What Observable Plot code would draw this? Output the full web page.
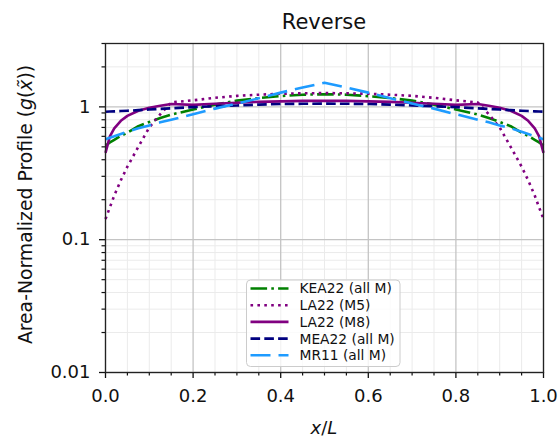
<!DOCTYPE html>
<html>
<head>
<meta charset="utf-8">
<script src="https://cdn.jsdelivr.net/npm/d3@7"></script>
<script src="https://cdn.jsdelivr.net/npm/@observablehq/plot@0.6"></script>
<style>
  html, body { margin: 0; padding: 0; background: #fff; }
  #chart { width: 559px; height: 440px; position: relative; }
  svg { font-family: "DejaVu Sans", sans-serif; }
</style>
</head>
<body>
<div id="chart"></div>
<script>
// ---- data ----
const xs = [0, 0.01, 0.02, 0.035, 0.05, 0.075, 0.1, 0.125, 0.15, 0.2, 0.25, 0.3, 0.35, 0.4, 0.45, 0.5,
            0.55, 0.6, 0.65, 0.7, 0.75, 0.8, 0.85, 0.875, 0.9, 0.925, 0.95, 0.965, 0.98, 0.99, 1];
const kea22 = [0.51, 0.54, 0.565, 0.605, 0.64, 0.715, 0.77, 0.825, 0.875, 0.955, 1.04, 1.115, 1.165, 1.205, 1.235, 1.245,
               1.235, 1.205, 1.165, 1.115, 1.04, 0.955, 0.875, 0.825, 0.77, 0.715, 0.64, 0.605, 0.565, 0.54, 0.51];
const la22M5 = [0.143, 0.175, 0.215, 0.28, 0.355, 0.50, 0.70, 0.88, 1.08, 1.12, 1.17, 1.21, 1.235, 1.255, 1.265, 1.27,
                1.265, 1.255, 1.235, 1.21, 1.17, 1.12, 1.08, 0.88, 0.70, 0.50, 0.355, 0.28, 0.215, 0.175, 0.143];
const la22M8 = [0.45, 0.60, 0.69, 0.785, 0.855, 0.935, 0.985, 1.02, 1.05, 1.035, 1.055, 1.075, 1.09, 1.10, 1.11, 1.11,
                1.11, 1.10, 1.09, 1.075, 1.055, 1.035, 1.05, 1.02, 0.985, 0.935, 0.855, 0.785, 0.69, 0.60, 0.45];
const mea22 = [0.92, 0.922, 0.925, 0.93, 0.935, 0.945, 0.955, 0.965, 0.975, 0.995, 1.01, 1.025, 1.04, 1.05, 1.055, 1.058,
               1.055, 1.05, 1.04, 1.025, 1.01, 0.995, 0.975, 0.965, 0.955, 0.945, 0.935, 0.93, 0.925, 0.922, 0.92];
const mr11 = [0.57, 0.585, 0.60, 0.625, 0.65, 0.69, 0.725, 0.765, 0.80, 0.88, 0.97, 1.06, 1.16, 1.28, 1.40, 1.52,
              1.40, 1.28, 1.16, 1.06, 0.97, 0.88, 0.80, 0.765, 0.725, 0.69, 0.65, 0.625, 0.60, 0.585, 0.57];

const seriesNames = ["KEA22 (all M)", "LA22 (M5)", "LA22 (M8)", "MEA22 (all M)", "MR11 (all M)"];
const seriesValues = [kea22, la22M5, la22M8, mea22, mr11];
const seriesColors = ["#008000", "#800080", "#800080", "#000080", "#1e9bff"];
const seriesDash = ["16.6,4.2,2.6,4.2", "2.6,4.3", null, "9.6,4.2", "20,8"];

const xMajor = [0, 0.2, 0.4, 0.6, 0.8, 1.0];
const xMinor = [0.05, 0.1, 0.15, 0.25, 0.3, 0.35, 0.45, 0.5, 0.55, 0.65, 0.7, 0.75, 0.85, 0.9, 0.95];
const yMajor = [0.01, 0.1, 1];
const yMajorLabels = ["0.01", "0.1", "1"];
const yMinor = [0.02, 0.03, 0.04, 0.05, 0.06, 0.07, 0.08, 0.09, 0.2, 0.3, 0.4, 0.5, 0.6, 0.7, 0.8, 0.9, 2, 3];

const title = "Reverse";

// ---- build chart ----
const rows = seriesNames.map((name, k) => xs.map((x, i) => ({x, y: seriesValues[k][i], name})));

const lineMarks = rows.map((r, k) => Plot.line(r, {
  x: "x", y: "y",
  stroke: seriesColors[k],
  strokeWidth: 2.6,
  strokeDasharray: seriesDash[k] ?? undefined,
  strokeLinecap: "butt",
  strokeLinejoin: "round"
}));

const W = 559, H = 440;
const mL = 105, mR = 16, mT = 43, mB = 68;

const svg = Plot.plot({
  width: W, height: H,
  marginLeft: mL, marginRight: mR, marginTop: mT, marginBottom: mB,
  style: {fontFamily: "DejaVu Sans, sans-serif", background: "white", color: "#111"},
  x: {domain: [0, 1]},
  y: {type: "log", domain: [0.01, 3]},
  marks: [
    Plot.gridX({ticks: xMinor, stroke: "#ebebeb", strokeOpacity: 1, strokeWidth: 1}),
    Plot.gridY({ticks: yMinor, stroke: "#ebebeb", strokeOpacity: 1, strokeWidth: 1}),
    Plot.gridX({ticks: xMajor, stroke: "#c4c4c4", strokeOpacity: 1, strokeWidth: 1.3}),
    Plot.gridY({ticks: yMajor, stroke: "#c4c4c4", strokeOpacity: 1, strokeWidth: 1.3}),
    ...lineMarks,
    Plot.axisX({ticks: xMinor, tickSize: 3.5, tickFormat: () => "", label: null, strokeWidth: 1.2}),
    Plot.axisY({ticks: yMinor, tickSize: 3.5, tickFormat: () => "", label: null, strokeWidth: 1.2}),
    Plot.axisX({ticks: xMajor, tickSize: 6, tickPadding: 11, tickFormat: d3.format(".1f"), label: null,
                fontSize: 18, strokeWidth: 1.3}),
    Plot.axisY({ticks: yMajor, tickSize: 6, tickPadding: 9, tickFormat: (d, i) => yMajorLabels[yMajor.indexOf(d)],
                label: null, fontSize: 18, strokeWidth: 1.3}),
    Plot.frame({stroke: "#222", strokeWidth: 1.3})
  ]
});

document.getElementById("chart").appendChild(svg);

// ---- title, axis labels and legend ----
const s = d3.select(svg);
const plotCx = mL + (W - mL - mR) / 2;
const plotCy = mT + (H - mT - mB) / 2;

s.append("text").attr("x", plotCx).attr("y", 29).attr("text-anchor", "middle")
  .attr("font-size", 21).attr("fill", "#111").text(title);

const xl = s.append("text").attr("x", plotCx).attr("y", 434).attr("text-anchor", "middle")
  .attr("font-size", 18).attr("fill", "#111");
xl.append("tspan").attr("font-style", "italic").text("x");
xl.append("tspan").text("/");
xl.append("tspan").attr("font-style", "italic").text("L");

const yl = s.append("text").attr("transform", `translate(25,${plotCy - 3}) rotate(-90)`)
  .attr("text-anchor", "middle").attr("dy", "0.35em").attr("font-size", 18.8).attr("fill", "#111");
yl.append("tspan").text("Area-Normalized Profile (");
yl.append("tspan").attr("font-style", "italic").text("g");
yl.append("tspan").text("(");
yl.append("tspan").attr("font-style", "italic").text("x\u0303");
yl.append("tspan").text("))");

const lg = s.append("g");
lg.append("rect").attr("x", 246.5).attr("y", 280).attr("width", 153.5).attr("height", 86.5)
  .attr("rx", 4).attr("fill", "white").attr("fill-opacity", 0.8).attr("stroke", "#cccccc").attr("stroke-width", 1);
seriesNames.forEach((name, k) => {
  const cy = 288.5 + k * 16.7;
  lg.append("line").attr("x1", 250.5).attr("x2", 288.5).attr("y1", cy).attr("y2", cy)
    .attr("stroke", seriesColors[k]).attr("stroke-width", 2.6)
    .attr("stroke-dasharray", seriesDash[k]).attr("stroke-linecap", "butt");
  lg.append("text").attr("x", 299.5).attr("y", cy).attr("dy", "0.36em").attr("font-size", 13.8)
    .attr("text-anchor", "start").attr("fill", "#111").text(name);
});
</script>
</body>
</html>
